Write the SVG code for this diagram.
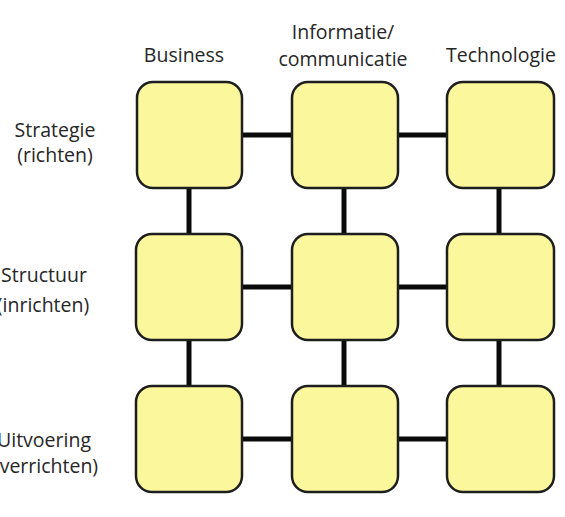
<svg xmlns="http://www.w3.org/2000/svg" width="565" height="517" viewBox="0 0 565 517">
<style>
.box{fill:#fbf79c;stroke:#1e1e1e;stroke-width:2.5}
.lbl{font-family:"Open Sans","Liberation Sans",sans-serif;font-size:19.5px;fill:#262626;text-anchor:middle}
.con line{stroke:#0a0a0a;stroke-width:5}
</style>
<rect width="565" height="517" fill="#fff"/>
<g class="con">
<line x1="242" y1="135" x2="292" y2="135"/>
<line x1="398" y1="135" x2="447" y2="135"/>
<line x1="242" y1="287" x2="292" y2="287"/>
<line x1="398" y1="287" x2="447" y2="287"/>
<line x1="242" y1="439" x2="292" y2="439"/>
<line x1="398" y1="439" x2="447" y2="439"/>
<line x1="189" y1="188" x2="189" y2="234"/>
<line x1="344" y1="188" x2="344" y2="234"/>
<line x1="499" y1="188" x2="499" y2="234"/>
<line x1="189" y1="340" x2="189" y2="386"/>
<line x1="344" y1="340" x2="344" y2="386"/>
<line x1="499" y1="340" x2="499" y2="386"/>
</g>
<g id="r1c1"><rect class="box" x="137" y="82" width="105" height="106" rx="16"/></g>
<g id="r1c2"><rect class="box" x="292" y="82" width="106" height="106" rx="16"/></g>
<g id="r1c3"><rect class="box" x="447" y="82" width="107" height="106" rx="16"/></g>
<g id="r2c1"><rect class="box" x="136" y="234" width="106" height="106" rx="16"/></g>
<g id="r2c2"><rect class="box" x="292" y="234" width="106" height="106" rx="16"/></g>
<g id="r2c3"><rect class="box" x="447" y="234" width="107" height="106" rx="16"/></g>
<g id="r3c1"><rect class="box" x="136" y="386" width="106" height="106" rx="16"/></g>
<g id="r3c2"><rect class="box" x="292" y="386" width="106" height="106" rx="16"/></g>
<g id="r3c3"><rect class="box" x="447" y="386" width="107" height="106" rx="16"/></g>
<g id="labels">
<text class="lbl" x="184" y="62">Business</text>
<text class="lbl" x="343" y="39">Informatie/</text>
<text class="lbl" x="343" y="66">communicatie</text>
<text class="lbl" x="501" y="62">Technologie</text>
<text class="lbl" x="55" y="137">Strategie</text>
<text class="lbl" x="55" y="162">(richten)</text>
<text class="lbl" x="44" y="282">Structuur</text>
<text class="lbl" x="43" y="312">(inrichten)</text>
<text class="lbl" x="44" y="447">Uitvoering</text>
<text class="lbl" x="46" y="473">(verrichten)</text>
</g>
</svg>
